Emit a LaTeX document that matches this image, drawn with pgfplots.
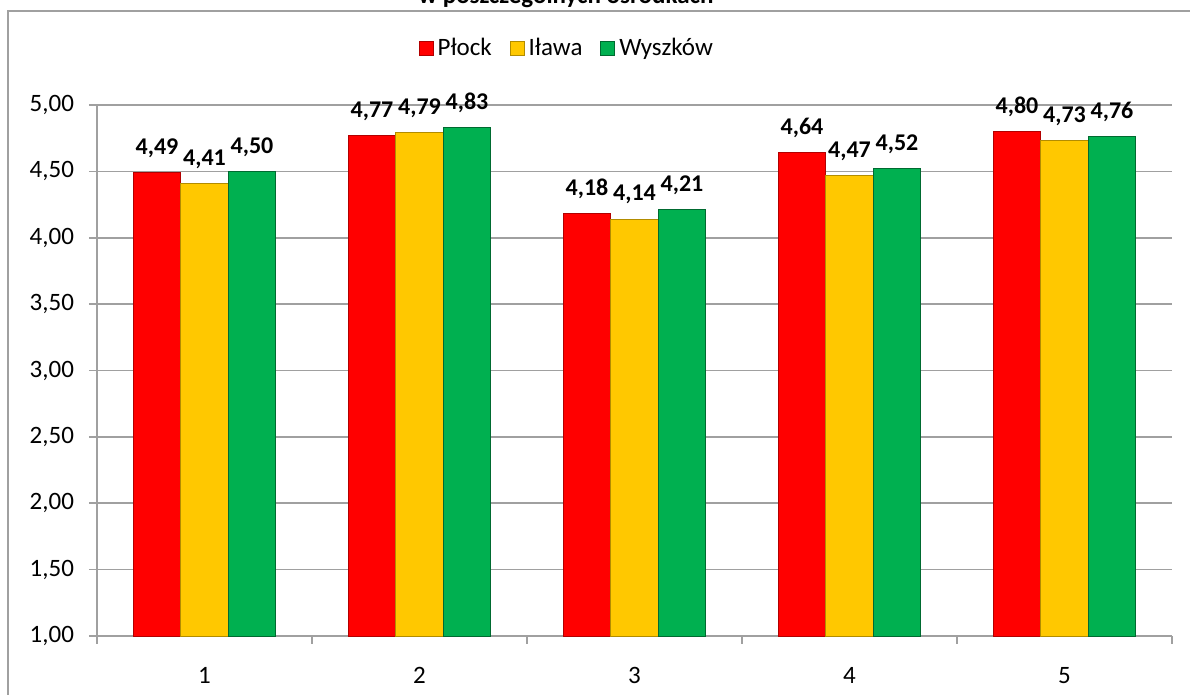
\documentclass[border=0pt]{standalone}
\usepackage{pgfplots}
\pgfplotsset{compat=1.18}
\usepackage{fontspec}
\setmainfont{Carlito}
\definecolor{cred}{HTML}{FF0000}
\definecolor{cyel}{HTML}{FFC800}
\definecolor{cgrn}{HTML}{00B050}
\definecolor{gridgray}{HTML}{A0A0A0}
\begin{document}
\begin{tikzpicture}
\useasboundingbox (-48.5pt,-29.5pt) rectangle (546.5pt,318pt);
\clip (-48.5pt,-29.5pt) rectangle (546.5pt,318pt);
\draw[gridgray, line width=0.8pt] (-44.5pt,-60pt) rectangle (600pt,312.5pt);
\node[anchor=base, font=\fontsize{12.5}{15}\selectfont\bfseries] at (234.5pt,316.3pt) {w poszczególnych ośrodkach};
\begin{axis}[
  at={(0pt,0pt)}, anchor=south west,
  scale only axis, width=537.5pt, height=265.5pt,
  ybar=0pt, bar width=23.75pt,
  xmin=0.5, xmax=5.5, ymin=1, ymax=5,
  xtick={1,2,3,4,5}, major x tick style={draw=none},
  minor xtick={0.5,1.5,2.5,3.5,4.5,5.5},
  ytick={1,1.5,2,2.5,3,3.5,4,4.5,5},
  tick align=outside, major tick length=4pt, minor tick length=4pt,
  tick style={gridgray, line width=0.8pt},
  ymajorgrids, grid style={gridgray, line width=0.8pt},
  axis x line*=bottom, axis y line*=left,
  axis line style={gridgray, line width=0.8pt, -},
  yticklabel style={/pgf/number format/fixed, /pgf/number format/fixed zerofill, /pgf/number format/precision=2, /pgf/number format/use comma},
  /pgf/number format/assume math mode=true,
  ticklabel style={font=\fontsize{12.5}{15}\selectfont, text=black},
  xticklabel style={yshift=-8pt},
  yticklabel style={xshift=-4pt},
  nodes near coords={\pgfmathprintnumber[fixed,fixed zerofill,precision=2,use comma,assume math mode=true]{\pgfplotspointmeta}},
  every node near coord/.append style={font=\fontsize{12}{14}\selectfont\bfseries, text=black, yshift=4pt},
  legend style={at={(0.438,1.107)}, anchor=center, legend columns=3, draw=none, fill=none,
    font=\fontsize{12.5}{15}\selectfont, /tikz/every even column/.append style={column sep=7pt}},
  legend image code/.code={\draw[#1] (0pt,-3.5pt) rectangle (7pt,3.5pt);},
  clip=false,
]
\addplot[fill=cred, draw=cred!70!black] coordinates {(1,4.49) (2,4.77) (3,4.18) (4,4.64) (5,4.80)};
\addplot[fill=cyel, draw=cyel!70!black] coordinates {(1,4.41) (2,4.79) (3,4.14) (4,4.47) (5,4.73)};
\addplot[fill=cgrn, draw=cgrn!60!black] coordinates {(1,4.50) (2,4.83) (3,4.21) (4,4.52) (5,4.76)};
\legend{Płock, Iława, Wyszków}
\end{axis}
\end{tikzpicture}
\end{document}
